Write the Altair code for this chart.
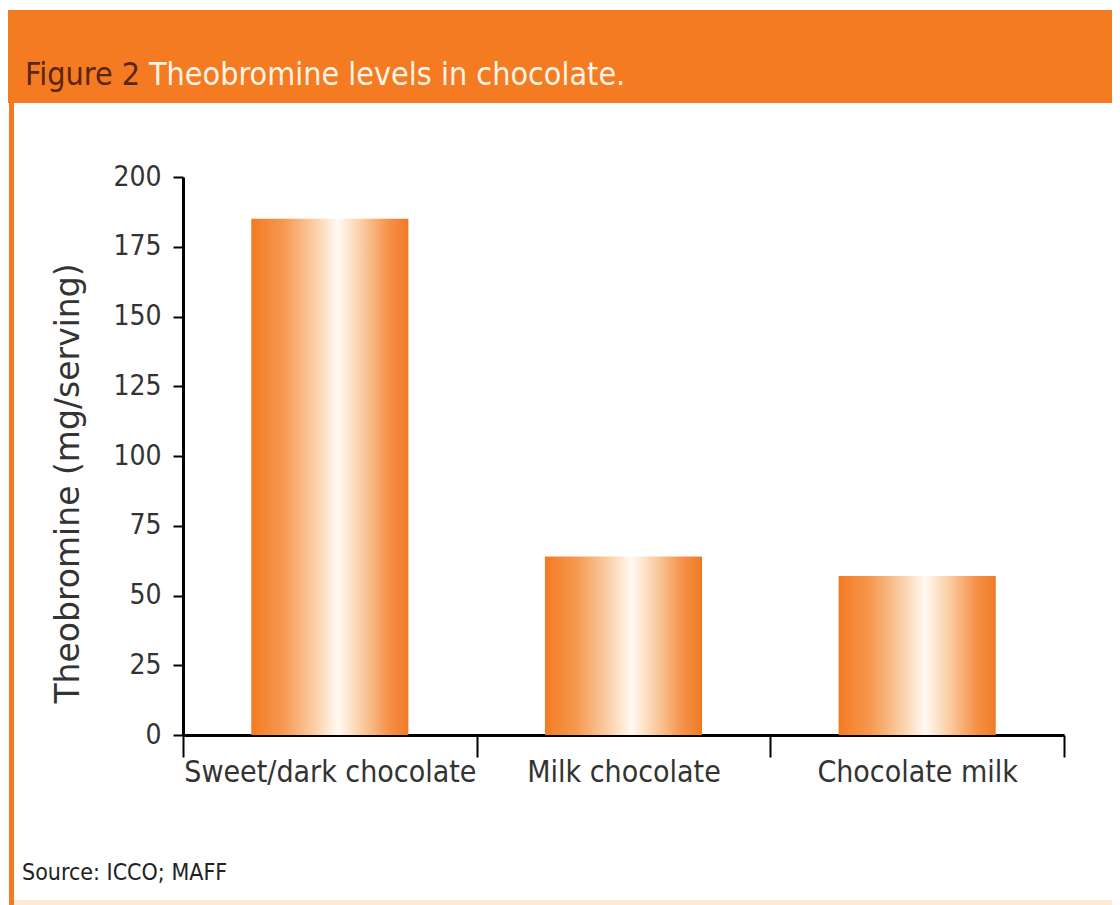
import altair as alt
import pandas as pd

# ---- data ----
categories = ["Sweet/dark chocolate", "Milk chocolate", "Chocolate milk"]
values = [185, 64, 57]
y_tick_values = [0, 25, 50, 75, 100, 125, 150, 175, 200]
fig_label = "Figure 2"
fig_title = "Theobromine levels in chocolate."
y_title = "Theobromine (mg/serving)"
source_text = "Source: ICCO; MAFF"

# ---- layout ----
W, H = 881, 558
PAD = {"left": 175, "top": 169, "right": 48, "bottom": 170}
FONT = "DejaVu Sans Condensed"
ORANGE = "#f47b21"

df = pd.DataFrame({"category": categories, "value": values})
one = pd.DataFrame({"k": [0]})

grad = alt.Gradient(
    gradient="linear",
    x1=0, x2=1, y1=0, y2=0,
    stops=[
        alt.GradientStop(color="#f47a22", offset=0.0),
        alt.GradientStop(color="#f5984f", offset=0.2),
        alt.GradientStop(color="#fbd3ae", offset=0.42),
        alt.GradientStop(color="#fffaf3", offset=0.55),
        alt.GradientStop(color="#fbcea4", offset=0.7),
        alt.GradientStop(color="#f59046", offset=0.88),
        alt.GradientStop(color="#ef7a26", offset=1.0),
    ],
)

bars = alt.Chart(df).mark_bar(color=grad, width=alt.RelativeBandSize(0.535)).encode(
    x=alt.X(
        "category:N",
        sort=categories,
        scale=alt.Scale(paddingInner=0, paddingOuter=0),
        axis=alt.Axis(
            title=None,
            labelAngle=0,
            tickBand="extent",
            tickSize=22,
            tickWidth=2,
            tickColor="black",
            domainColor="black",
            domainWidth=3,
            labelFont=FONT,
            labelFontSize=30,
            labelColor="#333333",
            labelPadding=0,
            labelLimit=0,
        ),
    ),
    y=alt.Y(
        "value:Q",
        scale=alt.Scale(domain=[0, 200]),
        axis=alt.Axis(
            values=y_tick_values,
            title=y_title,
            grid=False,
            tickSize=10,
            tickWidth=2,
            tickColor="black",
            domainColor="black",
            domainWidth=3,
            labelFont=FONT,
            labelFontSize=28,
            labelColor="#333333",
            labelPadding=12,
            titleFont="DejaVu Sans",
            titleFontSize=33,
            titleFontWeight="normal",
            titleColor="#333333",
            titlePadding=27,
            titleY=306,
        ),
    ),
)

header = alt.Chart(one).mark_rect(color=ORANGE).encode(
    x=alt.value(-175), x2=alt.value(937), y=alt.value(-167), y2=alt.value(-74)
)
left_stripe = alt.Chart(one).mark_rect(color=ORANGE).encode(
    x=alt.value(-174), x2=alt.value(-169), y=alt.value(-74), y2=alt.value(728)
)
bottom_line = alt.Chart(one).mark_rect(color="#fde9d4").encode(
    x=alt.value(-169), x2=alt.value(937), y=alt.value(723), y2=alt.value(728)
)

t1 = alt.Chart(one).mark_text(
    align="left", baseline="alphabetic", font=FONT, fontSize=32, color="#5a2510"
).encode(x=alt.value(-158), y=alt.value(-92), text=alt.value(fig_label))
t2 = alt.Chart(one).mark_text(
    align="left", baseline="alphabetic", font=FONT, fontSize=32, color="#fff4e6"
).encode(x=alt.value(-34), y=alt.value(-92), text=alt.value(fig_title))
src = alt.Chart(one).mark_text(
    align="left", baseline="alphabetic", font=FONT, fontSize=23, color="#222222"
).encode(x=alt.value(-161), y=alt.value(703), text=alt.value(source_text))

chart = alt.layer(header, left_stripe, bottom_line, bars, t1, t2, src).properties(
    width=W,
    height=H,
    padding=PAD,
    autosize=alt.AutoSizeParams(type="none"),
    background="white",
).configure_view(stroke=None)

chart.save("out.html", embed_options={"renderer": "svg", "actions": False})
